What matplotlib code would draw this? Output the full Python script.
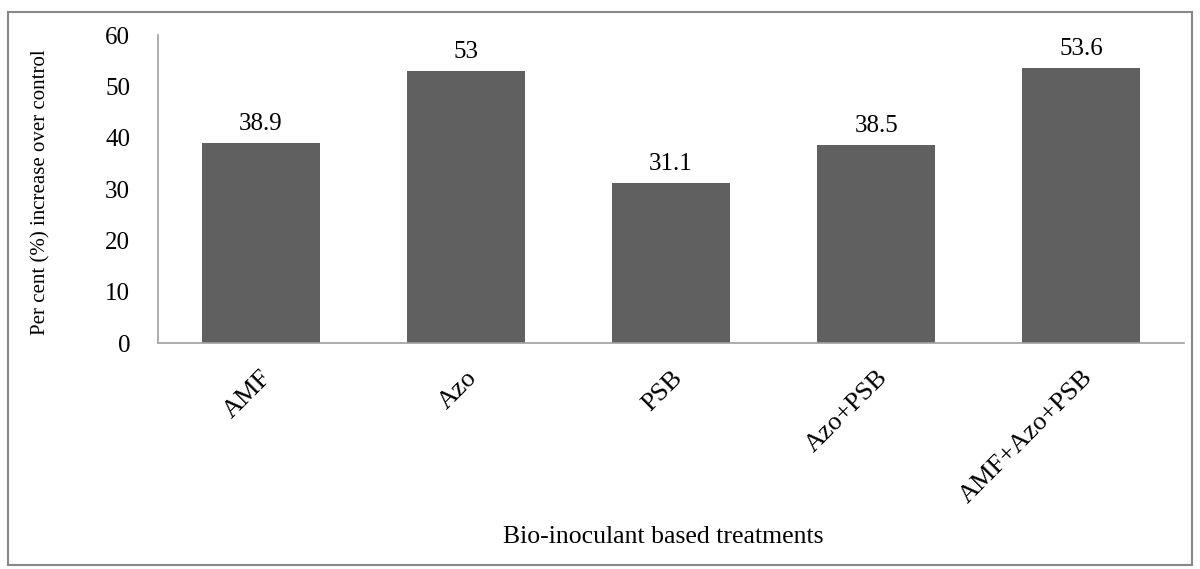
import matplotlib.pyplot as plt
from matplotlib.patches import Rectangle

treatments = ["AMF", "Azo", "PSB", "Azo+PSB", "AMF+Azo+PSB"]
increase = [38.9, 53, 31.1, 38.5, 53.6]
value_labels = ["38.9", "53", "31.1", "38.5", "53.6"]
yticks = [0, 10, 20, 30, 40, 50, 60]

plt.rcParams["font.family"] = ["Liberation Serif", "DejaVu Serif"]

fig = plt.figure(figsize=(12, 5.69), dpi=100)
ax = fig.add_axes([158 / 1200, 1 - 343 / 569, (1184 - 158) / 1200, (343 - 35) / 569])

bars = ax.bar(range(len(treatments)), increase, width=0.575, color="#606060")
for x, v, lab in zip(range(len(treatments)), increase, value_labels):
    ax.annotate(lab, (x, v), xytext=(0, 6), textcoords="offset points",
                ha="center", va="bottom", fontsize=18)

ax.set_xlim(-0.5, len(treatments) - 0.5)
ax.set_ylim(0, 60)
ax.set_yticks(yticks)
ax.tick_params(axis="y", length=0, pad=20, labelsize=18)
ax.tick_params(axis="x", length=0, pad=17, labelsize=19)
ax.set_xticks(range(len(treatments)))
ax.set_xticklabels(treatments, rotation=45, ha="right", rotation_mode="anchor")

for s in ["top", "right"]:
    ax.spines[s].set_visible(False)
for s in ["left", "bottom"]:
    ax.spines[s].set_color("#a0a0a0")
    ax.spines[s].set_linewidth(1.2)

ax.set_ylabel("Per cent (%) increase over control", fontsize=15, va="center")
ax.yaxis.set_label_coords((41 - 158) / 1026, 0.49)
fig.text(663 / 1200, 1 - 537 / 569, "Bio-inoculant based treatments",
         ha="center", va="center", fontsize=18.5)

fig.patches.append(Rectangle((8 / 1200, 1 - 565 / 569), 1184 / 1200, 553 / 569,
                             transform=fig.transFigure, fill=False,
                             edgecolor="#888888", linewidth=1.5))

fig.savefig("out.png", dpi=100)
